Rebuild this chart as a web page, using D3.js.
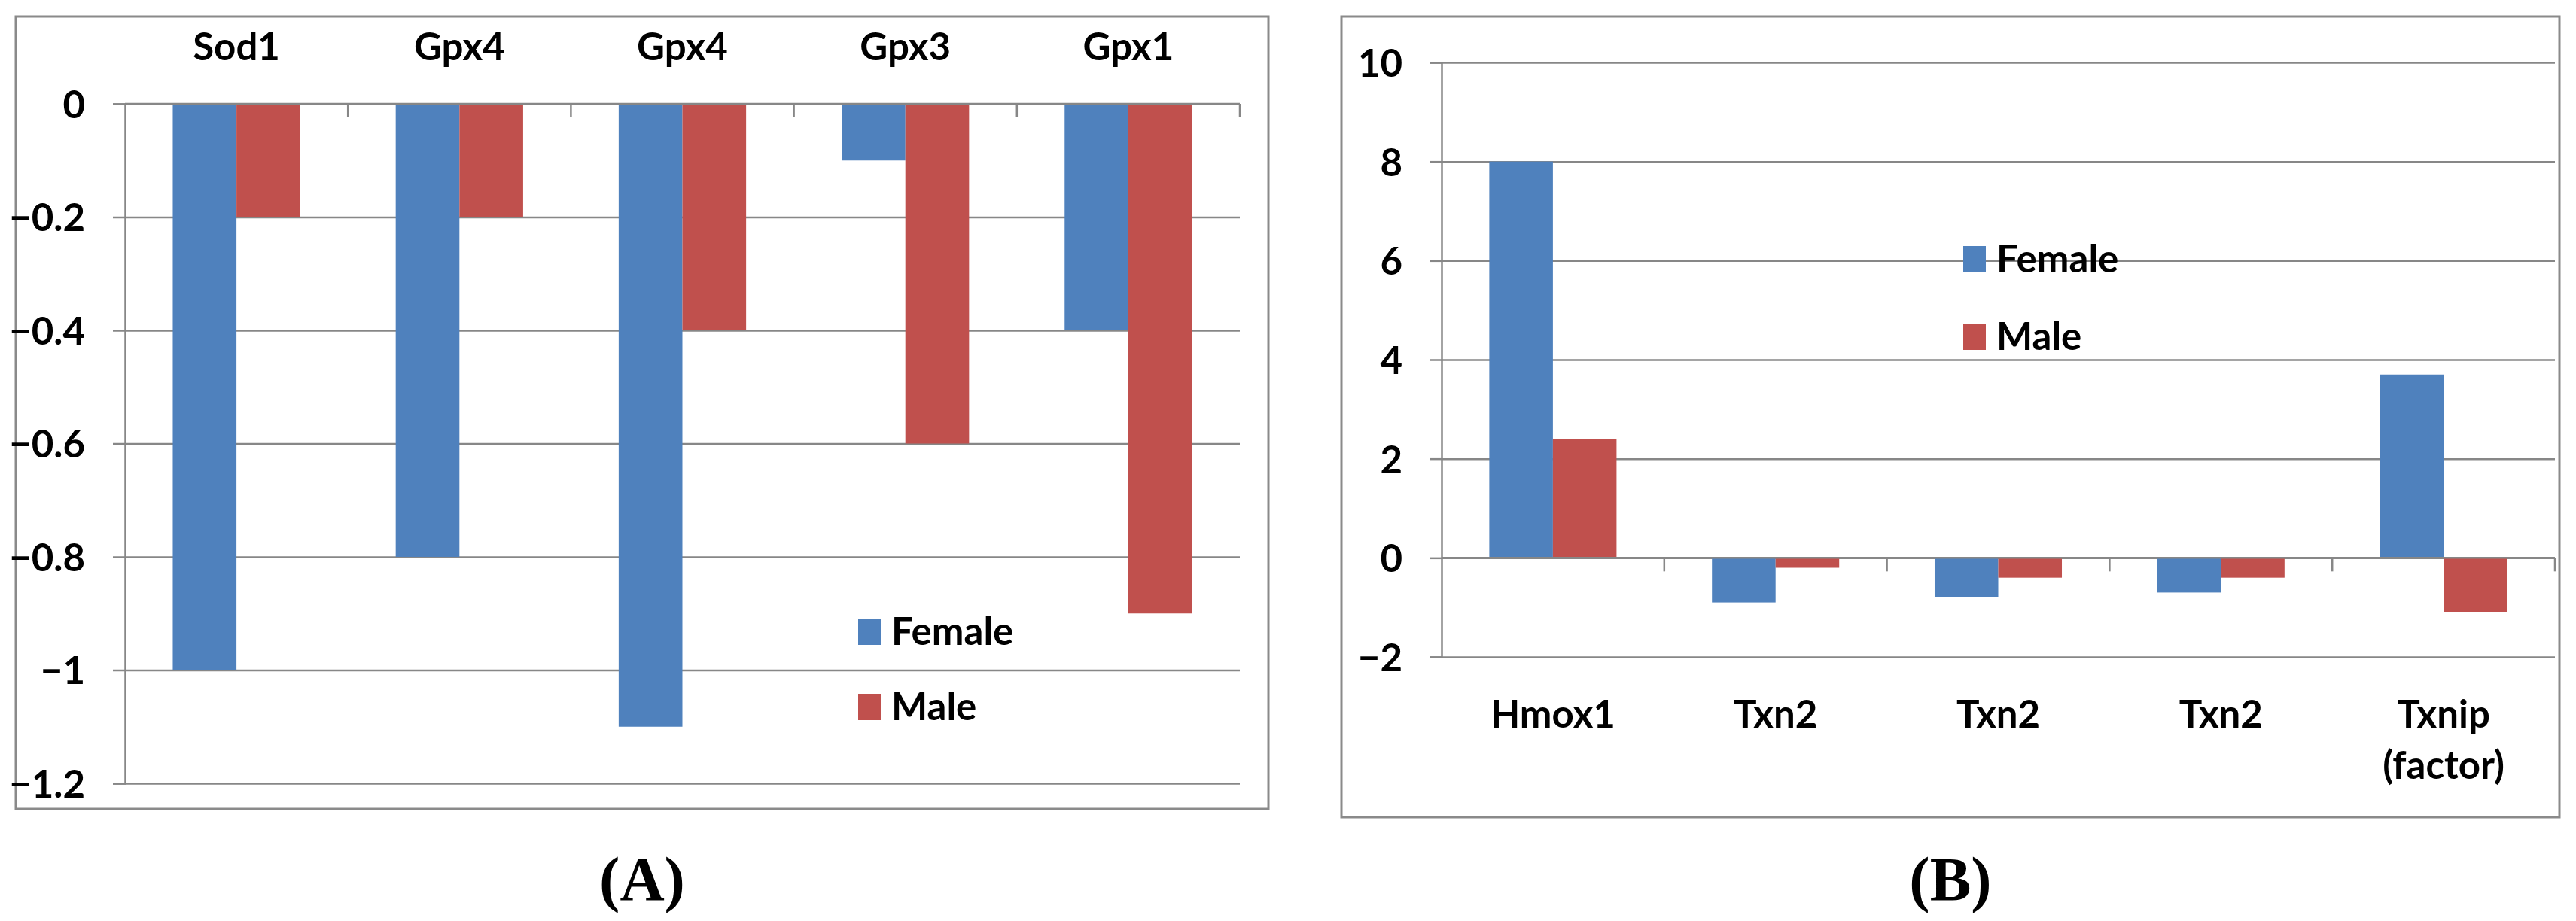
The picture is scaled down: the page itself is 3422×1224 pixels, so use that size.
<!DOCTYPE html>
<html>
<head>
<meta charset="utf-8">
<script src="https://cdn.jsdelivr.net/npm/d3@7"></script>
<style>
  html, body { margin: 0; padding: 0; background: #ffffff; }
  svg { display: block; }
  text { font-family: Lato, "Open Sans", sans-serif; font-weight: bold; fill: #000; }
</style>
</head>
<body>
<svg id="chart" width="3422" height="1224"></svg>
<script>
// ---------- Data ----------
const seriesNames = ["Female", "Male"];
const seriesColors = ["#4F81BD", "#C0504D"];

const catsA = ["Sod1", "Gpx4", "Gpx4", "Gpx3", "Gpx1"];
const femaleA = [-1.0, -0.8, -1.1, -0.1, -0.4];
const maleA = [-0.2, -0.2, -0.4, -0.6, -0.9];
const ticksA = [0, -0.2, -0.4, -0.6, -0.8, -1.0, -1.2];

const catsB = ["Hmox1", "Txn2", "Txn2", "Txn2", "Txnip\n(factor)"];
const femaleB = [8.0, -0.9, -0.8, -0.7, 3.7];
const maleB = [2.4, -0.2, -0.4, -0.4, -1.1];
const ticksB = [-2, 0, 2, 4, 6, 8, 10];

const panelLabels = ["(A)", "(B)"];

// ---------- Drawing ----------
const svg = d3.select("#chart");
const GRID = "#878787";
const FS = 51;

function panel(cfg) {
  const g = svg.append("g");
  // outer border
  g.append("rect")
    .attr("x", cfg.box[0]).attr("y", cfg.box[1])
    .attr("width", cfg.box[2] - cfg.box[0]).attr("height", cfg.box[3] - cfg.box[1])
    .attr("fill", "#fff").attr("stroke", "#8a8a8a").attr("stroke-width", 3);

  const x = d3.scaleBand().domain(d3.range(cfg.cats.length)).range([cfg.x0, cfg.x1]).padding(0);
  const bw = x.bandwidth();
  const xs = d3.scaleBand().domain([0, 1]).range([bw * 0.75 / 3.5 * 1, bw - bw * 0.75 / 3.5]).padding(0);
  const y = d3.scaleLinear().domain(cfg.ydom).range([cfg.yBottom, cfg.yTop]);

  // gridlines
  g.append("g")
    .attr("transform", `translate(${cfg.x0},0)`)
    .call(d3.axisLeft(y).tickValues(cfg.ticks).tickSize(-(cfg.x1 - cfg.x0)).tickFormat(""))
    .call(s => s.select(".domain").remove())
    .call(s => s.selectAll("line").attr("stroke", GRID).attr("stroke-width", 2.5));

  // y axis with ticks & labels
  const ya = g.append("g")
    .attr("transform", `translate(${cfg.x0},0)`)
    .call(d3.axisLeft(y).tickValues(cfg.ticks).tickSize(16).tickPadding(cfg.labelPad)
      .tickFormat(d => d3.format("")(+d.toFixed(1))));
  ya.select(".domain").attr("stroke", GRID).attr("stroke-width", 2.5);
  ya.selectAll(".tick line").attr("stroke", GRID).attr("stroke-width", 2.5);
  ya.selectAll(".tick text").attr("font-size", FS).attr("dy", "0.36em")
    .style("font-family", "Lato, sans-serif").style("font-weight", "bold").attr("fill", "#000");

  // bars
  const data = cfg.cats.map((c, i) => [cfg.f[i], cfg.m[i]]);
  const grp = g.append("g").selectAll("g").data(data).join("g")
    .attr("transform", (d, i) => `translate(${x(i)},0)`);
  grp.selectAll("rect").data(d => d).join("rect")
    .attr("x", (d, j) => xs(j))
    .attr("width", xs.bandwidth())
    .attr("y", d => y(Math.max(0, d)))
    .attr("height", d => Math.abs(y(d) - y(0)))
    .attr("fill", (d, j) => seriesColors[j]);

  // category axis at zero (tick marks downward)
  const y0 = y(0);
  g.append("line").attr("x1", cfg.x0).attr("x2", cfg.x1).attr("y1", y0).attr("y2", y0)
    .attr("stroke", GRID).attr("stroke-width", 2.5);
  g.append("g").selectAll("line").data(d3.range(1, cfg.cats.length + 1)).join("line")
    .attr("x1", i => cfg.x0 + i * bw).attr("x2", i => cfg.x0 + i * bw)
    .attr("y1", y0).attr("y2", y0 + 18)
    .attr("stroke", GRID).attr("stroke-width", 2.5);

  // category labels
  const lab = g.append("g").selectAll("text").data(cfg.cats).join("text")
    .attr("x", (d, i) => x(i) + bw / 2)
    .attr("y", cfg.catY)
    .attr("text-anchor", "middle")
    .attr("font-size", FS);
  lab.each(function (d) {
    const t = d3.select(this);
    d.split("\n").forEach((line, k) => {
      t.append("tspan").attr("x", t.attr("x")).attr("dy", k === 0 ? 0 : 68).text(line);
    });
  });

  // legend
  const lg = g.append("g");
  seriesNames.forEach((n, j) => {
    lg.append("rect").attr("x", cfg.legX).attr("y", cfg.legY + j * cfg.legStep)
      .attr("width", 30).attr("height", 35).attr("fill", seriesColors[j]);
    lg.append("text").attr("x", cfg.legX + 44).attr("y", cfg.legY + j * cfg.legStep + 35)
      .attr("font-size", FS).text(n);
  });

  // panel label
  svg.append("text").attr("x", cfg.plabX).attr("y", 1196).attr("text-anchor", "middle")
    .style("font-family", "'Liberation Serif', 'Times New Roman', serif")
    .style("font-weight", "bold").attr("font-size", 82).text(cfg.plab);
}

panel({
  box: [21, 22, 1685, 1075],
  cats: catsA, f: femaleA, m: maleA, ticks: ticksA,
  x0: 166, x1: 1647, ydom: [-1.2, 0], yBottom: 1041, yTop: 138,
  labelPad: 37, catY: 80,
  legX: 1140, legY: 822, legStep: 100,
  plab: panelLabels[0], plabX: 853
});

panel({
  box: [1782, 22, 3400, 1086],
  cats: catsB, f: femaleB, m: maleB, ticks: ticksB,
  x0: 1915, x1: 3394, ydom: [-2, 10], yBottom: 873, yTop: 83,
  labelPad: 36, catY: 967,
  legX: 2608, legY: 327, legStep: 103,
  plab: panelLabels[1], plabX: 2591
});
</script>
</body>
</html>
